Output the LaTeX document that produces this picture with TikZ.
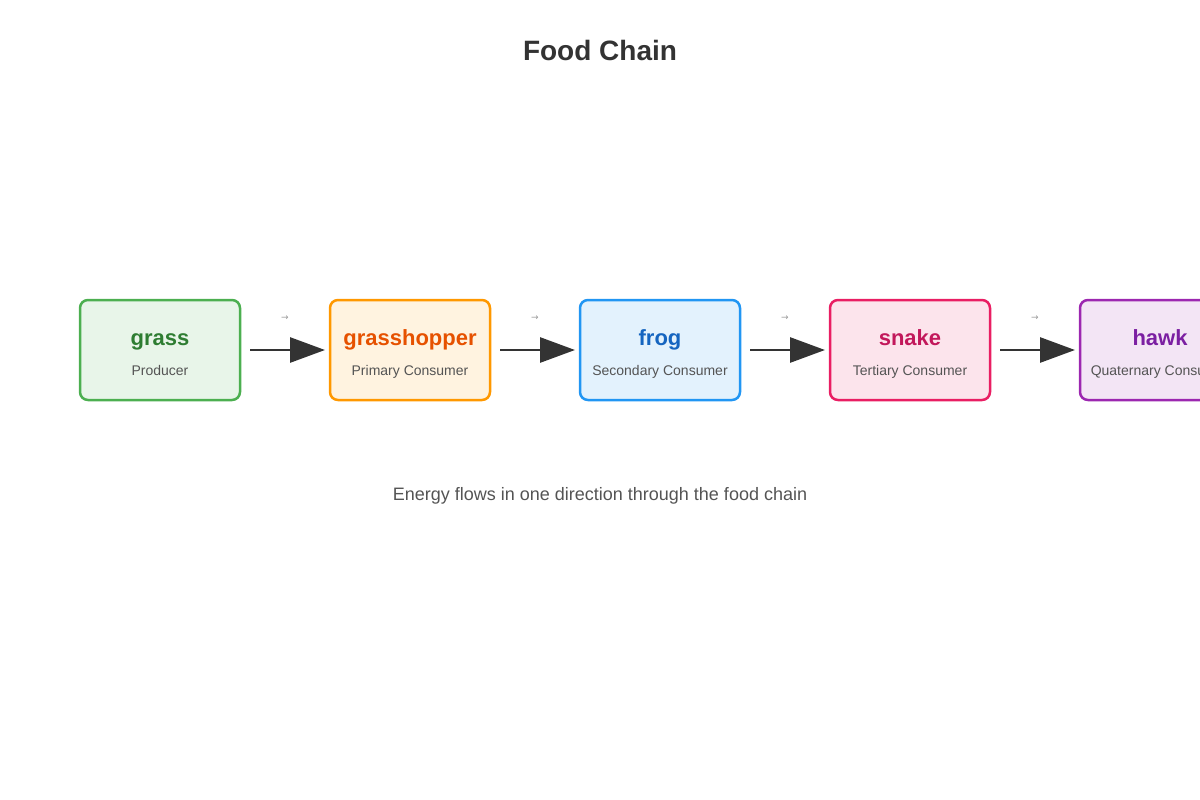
\documentclass[tikz,border=0pt]{standalone}
\usepackage{fontspec}
\setmainfont{Liberation Sans}
\newfontfamily\symfont{DejaVu Sans}
\usetikzlibrary{arrows.meta,positioning}

\definecolor{grassline}{HTML}{4CAF50}
\definecolor{grassfill}{HTML}{E8F5E9}
\definecolor{grassdark}{HTML}{2E7D32}
\definecolor{hopperline}{HTML}{FF9800}
\definecolor{hopperfill}{HTML}{FFF3E0}
\definecolor{hopperdark}{HTML}{E65100}
\definecolor{frogline}{HTML}{2196F3}
\definecolor{frogfill}{HTML}{E3F2FD}
\definecolor{frogdark}{HTML}{1565C0}
\definecolor{snakeline}{HTML}{E91E63}
\definecolor{snakefill}{HTML}{FCE4EC}
\definecolor{snakedark}{HTML}{C2185B}
\definecolor{hawkline}{HTML}{9C27B0}
\definecolor{hawkfill}{HTML}{F3E5F5}
\definecolor{hawkdark}{HTML}{7B1FA2}

\tikzset{
  tbox/.style={draw=#1line, fill=#1fill, line width=2.5pt, rounded corners=8pt,
    minimum width=160pt, minimum height=100pt, outer sep=0pt, inner sep=0pt},
  tname/.style={text=#1, anchor=base, font=\bfseries\fontsize{22}{26}\selectfont},
  trole/.style={text=black!67, anchor=base, font=\fontsize{14}{17}\selectfont},
  flow/.style={-{Triangle[length=35pt,width=25pt]}, line width=2.8pt, draw=black!80,
    shorten <=10pt, shorten >=5pt},
  tiplabel/.style={text=black!40, font=\symfont\fontsize{9}{10}\selectfont}
}

\begin{document}
\begin{tikzpicture}[x=1pt, y=-1pt]
  \useasboundingbox (0,0) rectangle (1200,800);
  \node (title) [text=black!80, anchor=base, font=\bfseries\fontsize{28}{34}\selectfont]
    at (600,61) {Food Chain};

  \node (grass) [tbox=grass] at (160,350) {};
  \node (hopper) [tbox=hopper, right=90pt of grass] {};
  \node (frog) [tbox=frog, right=90pt of hopper] {};
  \node (snake) [tbox=snake, right=90pt of frog] {};
  \node (hawk) [tbox=hawk, right=90pt of snake] {};

  \node (grassname) [tname=grassdark] at ([yshift=5pt]grass.center) {grass};
  \node (grassrole) [trole] at ([yshift=-25pt]grass.center) {Producer};
  \node (hoppername) [tname=hopperdark] at ([yshift=5pt]hopper.center) {grasshopper};
  \node (hopperrole) [trole] at ([yshift=-25pt]hopper.center) {Primary Consumer};
  \node (frogname) [tname=frogdark] at ([yshift=5pt]frog.center) {frog};
  \node (frogrole) [trole] at ([yshift=-25pt]frog.center) {Secondary Consumer};
  \node (snakename) [tname=snakedark] at ([yshift=5pt]snake.center) {snake};
  \node (snakerole) [trole] at ([yshift=-25pt]snake.center) {Tertiary Consumer};
  \node (hawkname) [tname=hawkdark] at ([yshift=5pt]hawk.center) {hawk};
  \node (hawkrole) [trole] at ([yshift=-25pt]hawk.center) {Quaternary Consumer};

  \draw[flow] (grass) -- node (l1) [tiplabel, yshift=32pt] {→} (hopper);
  \draw[flow] (hopper) -- node (l2) [tiplabel, yshift=32pt] {→} (frog);
  \draw[flow] (frog) -- node (l3) [tiplabel, yshift=32pt] {→} (snake);
  \draw[flow] (snake) -- node (l4) [tiplabel, yshift=32pt] {→} (hawk);

  \node (note) [text=black!67, anchor=base, font=\fontsize{18}{22}\selectfont]
    at (600,500) {Energy flows in one direction through the food chain};
\end{tikzpicture}
\end{document}
